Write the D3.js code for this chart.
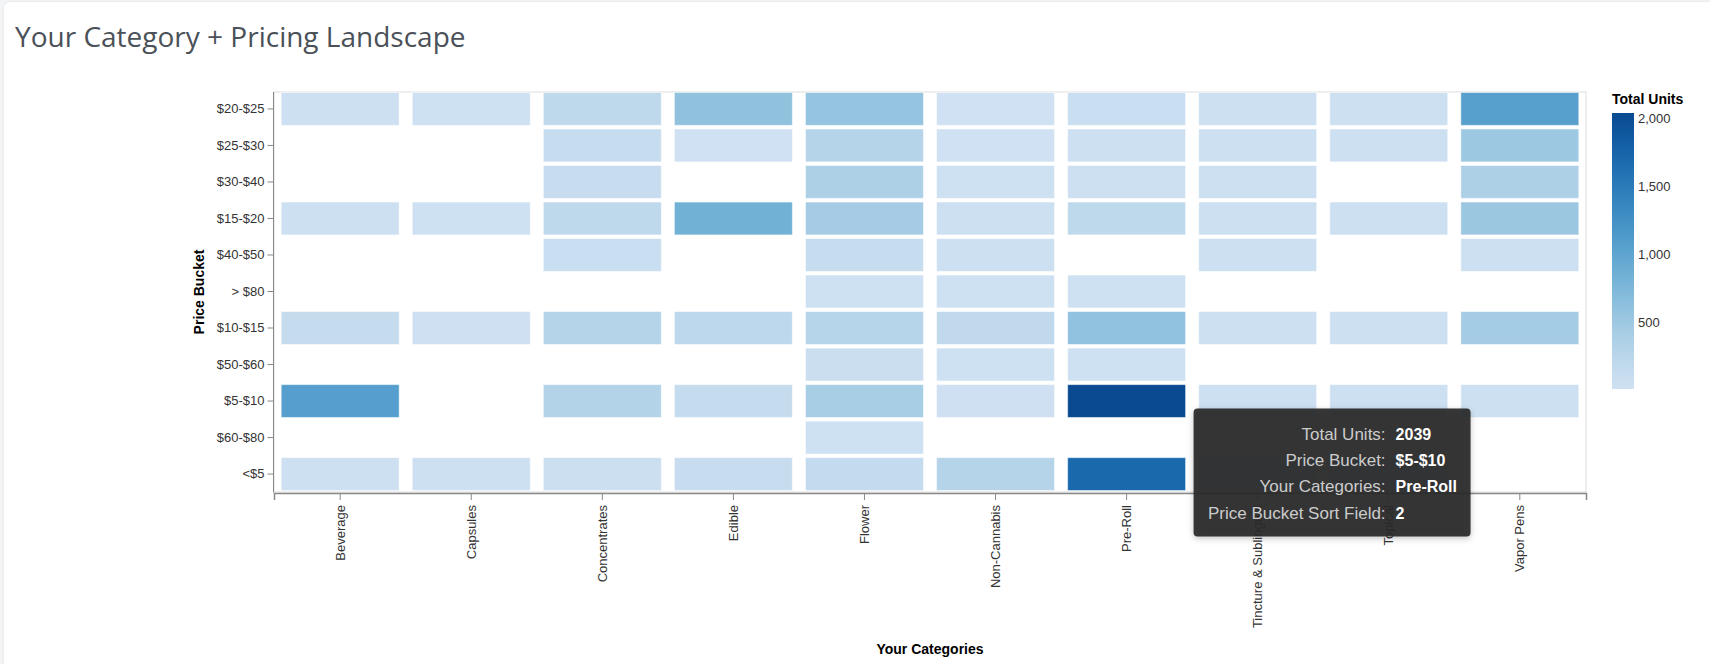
<!DOCTYPE html>
<html>
<head>
<meta charset="utf-8">
<script src="https://cdn.jsdelivr.net/npm/d3@7"></script>
<style>
  html, body { margin: 0; padding: 0; background: #f3f4f6; }
  #card {
    position: absolute; left: 4px; top: 2px; width: 1720px; height: 680px;
    background: #fff; border-radius: 6px;
    box-shadow: 0 0 3px rgba(0,0,0,0.08);
  }
  #graf { position: absolute; left: 0; top: 0; }
  .eje text { font-family: "Liberation Sans", Arial, sans-serif; font-size: 13px; fill: #333; }
  .eje line, .eje path { stroke: #888; }
</style>
</head>
<body>
<div id="card"></div>
<svg id="graf" width="1710" height="664"></svg>
<script>
// I. Datos
categorias = ['Beverage', 'Capsules', 'Concentrates', 'Edible', 'Flower',
              'Non-Cannabis', 'Pre-Roll', 'Tincture & Sublingual', 'Topical', 'Vapor Pens']

buckets = ['$20-$25', '$25-$30', '$30-$40', '$15-$20', '$40-$50', '> $80',
           '$10-$15', '$50-$60', '$5-$10', '$60-$80', '<$5']

// unidades por categoria, en el orden de buckets (null = sin celda)
beverage     = [30, null, null, 30, null, null, 130, null, 1080, null, 30]
capsules     = [20, null, null, 20, null, null, 25, null, null, null, 30]
concentrates = [200, 120, 110, 210, 80, null, 300, null, 320, null, 60]
edible       = [610, 10, null, 840, null, null, 220, null, 130, null, 110]
flower       = [570, 290, 370, 440, 120, 20, 280, 70, 420, 20, 150]
nonCannabis  = [15, 15, 20, 30, 30, 20, 190, 20, 25, null, 290]
preRoll      = [80, 30, 30, 200, null, 20, 600, 20, 2039, null, 1700]
tincture     = [40, 40, 40, 40, 40, null, 40, null, 30, null, 20]
topical      = [30, 30, null, 30, null, null, 30, null, 30, null, 20]
vaporPens    = [1060, 510, 370, 520, 30, null, 450, null, 35, null, null]

unidades = [beverage, capsules, concentrates, edible, flower,
            nonCannabis, preRoll, tincture, topical, vaporPens]

// orden de cada bucket (campo de orden del tooltip)
sortField = [5, 6, 7, 4, 8, 11, 3, 9, 2, 10, 1]

legendTicks = [500, 1000, 1500, 2000]

blues = ['#cfe1f2', '#bed8ec', '#a8cee5', '#8fc1de', '#74b2d7', '#5ba3cf',
         '#4592c6', '#3181bd', '#206fb2', '#125ca4', '#0a4a90']

// II. Configuración
dataArray = []
categorias.forEach((c, i) => {
  buckets.forEach((b, j) => {
    if (unidades[i][j] != null) dataArray.push({ cat: c, bucket: b, total: unidades[i][j], sort: sortField[j] })
  })
})

svg = d3.select('#graf')

x = d3.scaleBand()
      .domain(categorias)
      .range([274, 1586])
      .paddingInner(0.1)
      .paddingOuter(0.055)

y = d3.scaleBand()
      .domain(buckets)
      .range([92.5, 490.5])
      .paddingInner(0.1)
      .paddingOuter(0)

color = d3.scaleSequential(d3.piecewise(d3.interpolateRgb, blues))
          .domain(d3.extent(dataArray, d => d.total))

// título
svg.append('text')
   .attr('x', 15)
   .attr('y', 47)
   .style('font-family', '"Open Sans", sans-serif')
   .style('font-size', '28px')
   .style('fill', '#4a5158')
   .text('Your Category + Pricing Landscape')

// marco
svg.append('rect')
   .attr('x', 274).attr('y', 92)
   .attr('width', 1586 - 274).attr('height', 492 - 92)
   .attr('fill', 'none')
   .attr('stroke', '#ddd')

// III. Celdas
svg.append('g').selectAll('rect')
   .data(dataArray)
   .enter()
   .append('rect')
     .attr('x', d => x(d.cat))
     .attr('y', d => y(d.bucket))
     .attr('width', x.bandwidth())
     .attr('height', y.bandwidth())
     .attr('fill', d => color(d.total))
     .attr('stroke', 'rgba(255,255,255,0.5)')
     .attr('stroke-width', 1)

// ejes
yAxisGroup = svg.append('g')
                .attr('class', 'eje')
                .attr('transform', 'translate(273.5, 0)')
                .call(d3.axisLeft(y).tickSizeOuter(0).tickSize(6).tickPadding(3))
yAxisGroup.select('.domain').attr('d', 'M0,92V492.5')

xAxisGroup = svg.append('g')
                .attr('class', 'eje')
                .attr('transform', 'translate(0, 493)')
                .call(d3.axisBottom(x).tickSizeOuter(0).tickSize(7))
xAxisGroup.select('.domain').attr('stroke-width', 1.5)
xAxisGroup.selectAll('text')
          .attr('x', -12)
          .attr('y', 0)
          .attr('dy', '0.35em')
          .attr('text-anchor', 'end')
          .attr('transform', 'rotate(-90)')

svg.append('text')
   .attr('transform', 'translate(204, 292) rotate(-90)')
   .attr('text-anchor', 'middle')
   .style('font-family', '"Liberation Sans", Arial, sans-serif')
   .style('font-size', '14px')
   .style('font-weight', 'bold')
   .style('fill', '#000')
   .text('Price Bucket')

svg.append('text')
   .attr('x', (274 + 1586) / 2)
   .attr('y', 654)
   .attr('text-anchor', 'middle')
   .style('font-family', '"Liberation Sans", Arial, sans-serif')
   .style('font-size', '14px')
   .style('font-weight', 'bold')
   .style('fill', '#000')
   .text('Your Categories')

// IV. Leyenda
ly = d3.scaleLinear().domain(color.domain()).range([389, 113])

grad = svg.append('defs').append('linearGradient')
          .attr('id', 'grad')
          .attr('x1', 0).attr('y1', 1).attr('x2', 0).attr('y2', 0)
d3.range(0, 1.0001, 0.1).forEach(t => {
  grad.append('stop')
      .attr('offset', t)
      .attr('stop-color', color(color.domain()[0] + t * (color.domain()[1] - color.domain()[0])))
})

svg.append('text')
   .attr('x', 1612)
   .attr('y', 104)
   .style('font-family', '"Liberation Sans", Arial, sans-serif')
   .style('font-size', '14px')
   .style('font-weight', 'bold')
   .text('Total Units')

svg.append('rect')
   .attr('x', 1612).attr('y', 113)
   .attr('width', 22).attr('height', 276)
   .attr('fill', 'url(#grad)')

svg.append('g').selectAll('text')
   .data(legendTicks)
   .enter()
   .append('text')
     .attr('x', 1638)
     .attr('y', d => ly(d))
     .attr('dy', '0.35em')
     .style('font-family', '"Liberation Sans", Arial, sans-serif')
     .style('font-size', '13px')
     .style('fill', '#333')
     .text(d3.format(','))

// V. Tooltip (Pre-Roll, $5-$10)
sel = dataArray.find(d => d.cat === 'Pre-Roll' && d.bucket === '$5-$10')
tx = x(sel.cat) + x.bandwidth() + 8
ty = y(sel.bucket) + 24

filtro = svg.select('defs').append('filter').attr('id', 'sombra')
              .attr('x', -0.1).attr('y', -0.1).attr('width', 1.2).attr('height', 1.3)
filtro.append('feDropShadow')
      .attr('dx', 0).attr('dy', 2).attr('stdDeviation', 3)
      .attr('flood-color', '#000').attr('flood-opacity', 0.25)

tip = svg.append('g').attr('transform', `translate(${tx}, ${ty})`)
tip.append('rect')
   .attr('width', 277).attr('height', 128)
   .attr('rx', 4)
   .attr('fill', 'rgba(38,38,38,0.92)')
   .attr('filter', 'url(#sombra)')

filas = [
  ['Total Units:', sel.total],
  ['Price Bucket:', sel.bucket],
  ['Your Categories:', sel.cat],
  ['Price Bucket Sort Field:', sel.sort]
]
filas.forEach((f, i) => {
  tip.append('text')
     .attr('x', 192).attr('y', 31 + i * 26.3)
     .attr('text-anchor', 'end')
     .style('font-family', '"Liberation Sans", Arial, sans-serif')
     .style('font-size', '17px')
     .style('fill', '#cccccc')
     .text(f[0])
  tip.append('text')
     .attr('x', 202).attr('y', 31 + i * 26.3)
     .style('font-family', '"Liberation Sans", Arial, sans-serif')
     .style('font-size', '16px')
     .style('font-weight', 'bold')
     .style('fill', '#fff')
     .text(f[1])
})
</script>
</body>
</html>
